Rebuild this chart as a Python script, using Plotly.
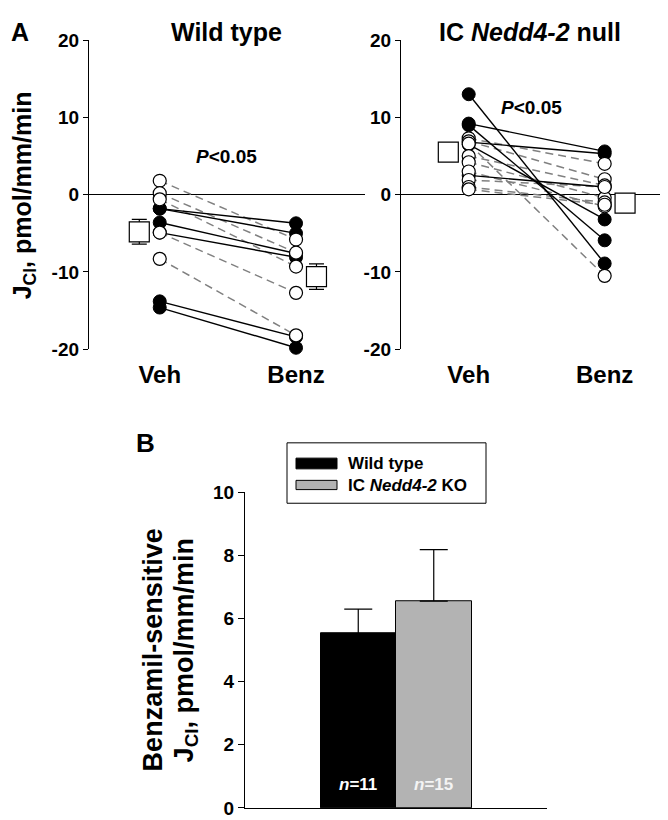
import plotly.graph_objects as go

W, H = 668, 820
FONT = "Liberation Sans, Arial, sans-serif"

# ---------------- Panel A data ----------------
conditions = ["Veh", "Benz"]
cond_x = [0, 1]

# Wild type: paired values (Veh -> Benz); filled = solid line pair, open = dashed
wt_veh = [-1.8, -1.8, -3.6, -4.9, -13.8, -14.6, 1.8, 0.2, -0.6, -4.9, -8.3]
wt_benz = [-3.7, -5.0, -7.6, -8.1, -18.4, -19.8, -5.8, -7.5, -9.3, -12.7, -18.2]
wt_filled = [1, 1, 1, 1, 1, 1, 0, 0, 0, 0, 0]
wt_mean = [-4.8, -10.6]
wt_sem = [1.6, 1.65]

# IC Nedd4-2 null
ko_veh = [13.0, 9.2, 9.0, 6.8, 6.5, 2.5, 7.3, 6.9, 6.6, 5.0, 4.2, 3.0, 1.9, 1.0, 0.7]
ko_benz = [-8.9, 5.6, -5.9, 5.3, -3.2, 1.0, 4.0, 2.0, -10.5, 1.2, -0.4, -1.5, 1.0, -1.0, -1.3]
ko_filled = [1, 1, 1, 1, 1, 1, 0, 0, 0, 0, 0, 0, 0, 0, 0]
ko_mean = [5.5, -1.1]

yticks_a = [-20, -10, 0, 10, 20]

# ---------------- Panel B data ----------------
bar_groups = ["Wild type", "IC Nedd4-2 KO"]
bar_labels = ["Wild type", "IC <i>Nedd4-2</i> KO"]
bar_means = [5.52, 6.55]
bar_sem = [0.78, 1.63]
bar_n = [11, 15]
bar_colors = ["#000000", "#b3b3b3"]
n_colors = ["#ffffff", "#f4f4f4"]
yticks_b = [0, 2, 4, 6, 8, 10]

MEAN_OFFSET = 0.15

fig = go.Figure()


def seg_xy(veh, benz, mask, want):
    xs, ys = [], []
    for v, b, f in zip(veh, benz, mask):
        if f == want:
            xs += [cond_x[0], cond_x[1], None]
            ys += [v, b, None]
    return xs, ys


def pts_xy(veh, benz, mask, want):
    xs, ys = [], []
    for v, b, f in zip(veh, benz, mask):
        if f == want:
            xs += [cond_x[0], cond_x[1]]
            ys += [v, b]
    return xs, ys


def add_panel(veh, benz, mask, mean, sem, xa, ya):
    # dashed gray lines (open-circle pairs)
    x, y = seg_xy(veh, benz, mask, 0)
    fig.add_trace(go.Scatter(x=x, y=y, mode="lines", xaxis=xa, yaxis=ya, cliponaxis=False,
                             line=dict(color="#808080", width=1.5, dash="8px,5px"),
                             showlegend=False, hoverinfo="skip"))
    # solid black lines (filled-circle pairs)
    x, y = seg_xy(veh, benz, mask, 1)
    fig.add_trace(go.Scatter(x=x, y=y, mode="lines", xaxis=xa, yaxis=ya, cliponaxis=False,
                             line=dict(color="#000000", width=1.4),
                             showlegend=False, hoverinfo="skip"))
    # filled markers
    x, y = pts_xy(veh, benz, mask, 1)
    fig.add_trace(go.Scatter(x=x, y=y, mode="markers", xaxis=xa, yaxis=ya, cliponaxis=False,
                             marker=dict(symbol="circle", size=13, color="#000000",
                                         line=dict(color="#000000", width=1)),
                             showlegend=False))
    # open markers
    x, y = pts_xy(veh, benz, mask, 0)
    fig.add_trace(go.Scatter(x=x, y=y, mode="markers", xaxis=xa, yaxis=ya, cliponaxis=False,
                             marker=dict(symbol="circle", size=13, color="#ffffff",
                                         line=dict(color="#000000", width=1.2)),
                             showlegend=False))
    # means
    mx = [cond_x[0] - MEAN_OFFSET, cond_x[1] + MEAN_OFFSET]
    err = dict(type="data", array=sem, visible=True, color="#000000",
               thickness=1.2, width=7.5) if sem else None
    fig.add_trace(go.Scatter(x=mx, y=mean, mode="markers", xaxis=xa, yaxis=ya, cliponaxis=False,
                             error_y=err,
                             marker=dict(symbol="square", size=20, color="#ffffff",
                                         line=dict(color="#000000", width=1.2)),
                             showlegend=False))


add_panel(wt_veh, wt_benz, wt_filled, wt_mean, wt_sem, "x", "y")
add_panel(ko_veh, ko_benz, ko_filled, ko_mean, None, "x2", "y2")

# ---------------- Panel B bars ----------------
for g, m, s, c in zip(bar_groups, bar_means, bar_sem, bar_colors):
    fig.add_trace(go.Bar(x=[g], y=[m], xaxis="x3", yaxis="y3",
                         marker=dict(color=c, line=dict(color="#000000", width=1)),
                         error_y=dict(type="data", symmetric=False, array=[s],
                                      arrayminus=[0], visible=True, color="#000000",
                                      thickness=1.2, width=14),
                         showlegend=False))


def px_x(p):
    return p / W


def px_y(p):
    return 1 - p / H


def bold_ticks(vals):
    return [f"<b>{v}</b>" for v in vals]


tickfont = dict(family=FONT, size=19, color="#000000")
catfont = dict(family=FONT, size=24, color="#000000")

yaxis_common = dict(range=[-20, 20], tickvals=yticks_a, ticktext=bold_ticks(yticks_a),
                    showline=True, linecolor="#000000",
                    linewidth=1.3, ticks="outside", ticklen=5, tickwidth=1.3,
                    tickcolor="#000000", showgrid=False, zeroline=True,
                    zerolinecolor="#000000", zerolinewidth=1.2, tickfont=tickfont)
xaxis_common = dict(tickvals=cond_x, ticktext=bold_ticks(conditions), showline=False,
                    showgrid=False, zeroline=False, ticks="outside", ticklen=4,
                    tickcolor="rgba(0,0,0,0)", tickfont=catfont)

fig.update_layout(
    width=W, height=H, margin=dict(l=0, r=0, t=0, b=0),
    paper_bgcolor="#ffffff", plot_bgcolor="rgba(0,0,0,0)",
    barmode="overlay", bargap=0,
    xaxis=dict(domain=[px_x(81), px_x(357)], range=[-0.519, 1.506], anchor="y", **xaxis_common),
    yaxis=dict(domain=[px_y(340), px_y(22.7)], anchor="x", **yaxis_common),
    xaxis2=dict(domain=[px_x(393), px_x(666)], range=[-0.498, 1.51], anchor="y2", **xaxis_common),
    yaxis2=dict(domain=[px_y(340), px_y(22.7)], anchor="x2", **yaxis_common),
    xaxis3=dict(domain=[px_x(237), px_x(539)], range=[-1.5, 2.5], anchor="y3",
                type="category", categoryorder="array", categoryarray=bar_groups,
                showticklabels=False, ticks="", showline=True, linecolor="#000000",
                linewidth=1.3, showgrid=False, zeroline=False),
    yaxis3=dict(domain=[px_y(810.7), px_y(486.7)], range=[0, 10], anchor="x3",
                tickvals=yticks_b, ticktext=bold_ticks(yticks_b),
                showline=True, linecolor="#000000", linewidth=1.3,
                ticks="outside", ticklen=6, tickwidth=1.3, tickcolor="#000000",
                showgrid=False, zeroline=False, tickfont=tickfont),
    showlegend=False,
)

ann = []


def add_text(text, x, y, size, xref="paper", yref="paper", xanchor="center",
             yanchor="middle", color="#000000", angle=0):
    ann.append(dict(text=text, x=x, y=y, xref=xref, yref=yref, xanchor=xanchor,
                    yanchor=yanchor, showarrow=False, textangle=angle,
                    font=dict(family=FONT, size=size, color=color)))


add_text("<b>A</b>", px_x(12), px_y(14), 25)
add_text("<b>Wild type</b>", px_x(218.5), px_y(14), 25)
add_text("<b>IC <i>Nedd4-2</i> null</b>", px_x(522), px_y(14), 25)
add_text("<b>J<sub>Cl</sub>, pmol/mm/min</b>", px_x(16), px_y(182), 25, angle=-90)
add_text("<b><i>P</i><0.05</b>", 0.49, 5.0, 19, xref="x", yref="y")
add_text("<b><i>P</i><0.05</b>", 0.46, 11.3, 19, xref="x2", yref="y2")

add_text("<b>B</b>", px_x(137), px_y(436), 26)
add_text("<b>Benzamil-sensitive</b>", px_x(145), px_y(649), 27, angle=-90)
add_text("<b>J<sub>Cl</sub>, pmol/mm/min</b>", px_x(178), px_y(649), 27, angle=-90)

for g, n, c in zip(bar_groups, bar_n, n_colors):
    add_text(f"<b><i>n</i>={n}</b>", g, 0.75, 17, xref="x3", yref="y3", color=c)

# legend (drawn manually for wide swatches)
shapes = [dict(type="rect", xref="paper", yref="paper", x0=px_x(279), x1=px_x(478),
               y0=px_y(498), y1=px_y(436), line=dict(color="#000000", width=1),
               fillcolor="#ffffff", layer="above")]
sw_y = [(451.7, 462.7), (474.5, 484)]
txt_y = [457, 480]
for lab, col, (a, b), ty in zip(bar_labels, bar_colors, sw_y, txt_y):
    shapes.append(dict(type="rect", xref="paper", yref="paper", x0=px_x(288), x1=px_x(329),
                       y0=px_y(b), y1=px_y(a), line=dict(color="#000000", width=1),
                       fillcolor=col, layer="above"))
    add_text(f"<b>{lab}</b>", px_x(338), px_y(ty), 17, xanchor="left")

fig.update_layout(annotations=ann, shapes=shapes)

fig.write_html("out.html")
